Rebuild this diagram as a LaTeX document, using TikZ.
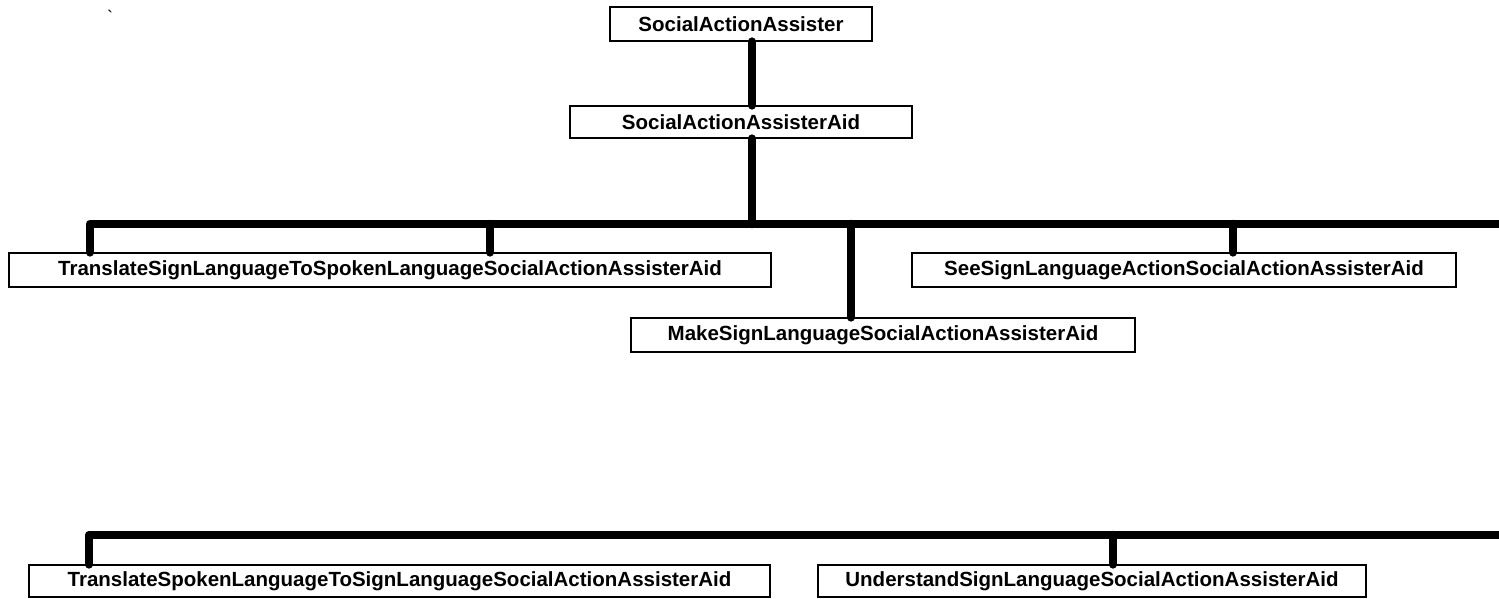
\documentclass[tikz,border=0pt]{standalone}
\usepackage{fontspec}
\setmainfont{Liberation Sans}
\newfontfamily\gravefont{Liberation Sans}[Ligatures=TeXOff]
\usepackage{tikz}

\tikzset{
  aidbox/.style={draw, line width=1.2pt, inner sep=0pt, align=center,
    font=\fontsize{20.5}{23}\selectfont\bfseries},
  link/.style={line width=8.5pt, line cap=round, line join=round}
}

\begin{document}
\begin{tikzpicture}[x=1pt, y=-1pt]
        \useasboundingbox (0,0) rectangle (1499,598);
        \clip (0,0) rectangle (1499,598);

        %------------------
        % ボックス
        %------------------

        \node[aidbox, minimum width=262, minimum height=34] (saa) at (741,24) {SocialActionAssister};
        \node[aidbox, minimum width=342, minimum height=32] (saaaid) at (741,122) {SocialActionAssisterAid};

        \node[aidbox, minimum width=762, minimum height=34] (tsl) at (390,270) {TranslateSignLanguageToSpokenLanguageSocialActionAssisterAid};
        \node[aidbox, minimum width=544, minimum height=34] (see) at (1184,270) {SeeSignLanguageActionSocialActionAssisterAid};
        \node[aidbox, minimum width=504, minimum height=34] (make) at (883,335) {MakeSignLanguageSocialActionAssisterAid};

        \node[aidbox, minimum width=741, minimum height=32] (tspk) at (399.5,581) {TranslateSpokenLanguageToSignLanguageSocialActionAssisterAid};
        \node[aidbox, minimum width=548, minimum height=32] (und) at (1092,581) {UnderstandSignLanguageSocialActionAssisterAid};

        % 左上の小さな記号
        \node[anchor=base, inner sep=0pt, font=\gravefont\fontsize{18}{20}\selectfont] (tick) at (110,23) {\symbol{96}};

        %------------------
        % 接続線
        %------------------

        \coordinate (trunk) at (752,224);
        \coordinate (busa) at (90,224);
        \coordinate (busaend) at (1510,224);
        \coordinate (busb) at (89,535);
        \coordinate (busbend) at (1510,535);

        \draw[link] (saa.south -| trunk) -- (saaaid.north -| trunk);
        \draw[link] (saaaid.south -| trunk) -- (trunk);

        % 上の分岐
        \draw[link] (tsl.north -| busa) -- (busa) -- (busaend);
        \draw[link] (tsl.north -| 490,0) -- (490,224);
        \draw[link] (make.north -| 851,0) -- (851,224);
        \draw[link] (see.north -| 1233,0) -- (1233,224);

        % 下の分岐
        \draw[link] (tspk.north -| busb) -- (busb) -- (busbend);
        \draw[link] (und.north -| 1113,0) -- (1113,535);
      \end{tikzpicture}
\end{document}
